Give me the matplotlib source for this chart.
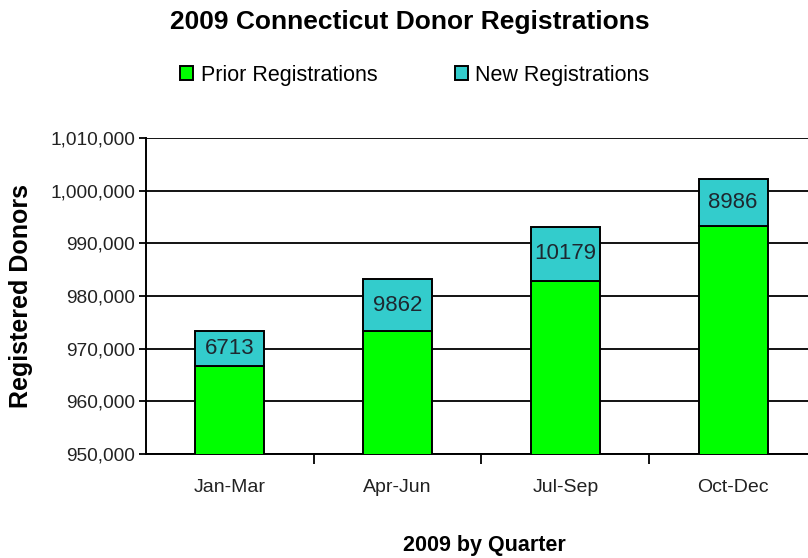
import matplotlib
matplotlib.use("Agg")
import matplotlib.pyplot as plt
from matplotlib.ticker import FuncFormatter, FixedLocator
import numpy as np

plt.rcParams['font.family'] = ['Liberation Sans', 'DejaVu Sans']

quarters = ["Jan-Mar", "Apr-Jun", "Jul-Sep", "Oct-Dec"]
prior = [966640, 973350, 982900, 993200]
new = [6713, 9862, 10179, 8986]
yticks = [950000, 960000, 970000, 980000, 990000, 1000000, 1010000]

fig = plt.figure(figsize=(8.08, 5.58), dpi=100)
ax = fig.add_axes([146/808, 1-454/558, (817-146)/808, (454-138)/558])

x = np.arange(len(quarters))
w = 0.41
b1 = ax.bar(x, prior, width=w, color='#00FF00', edgecolor='black', linewidth=1.4,
            label='Prior Registrations', zorder=3)
b2 = ax.bar(x, new, width=w, bottom=prior, color='#33CCCC', edgecolor='black',
            linewidth=1.4, label='New Registrations', zorder=3)

for xi, p, n in zip(x, prior, new):
    ax.text(xi, p + n * 0.5, f"{n}", ha='center', va='center', fontsize=16,
            color='#1e2830', zorder=4)

ax.set_ylim(950000, 1010000)
ax.set_xlim(-0.5, len(quarters) - 0.5)
ax.set_yticks(yticks)
ax.yaxis.set_major_formatter(FuncFormatter(lambda v, _: f"{int(v):,}"))
ax.grid(axis='y', color='black', linewidth=1.3, zorder=0)
ax.set_axisbelow(True)

ax.set_xticks(x)
ax.set_xticklabels(quarters, fontsize=14, color='#222222')
ax.xaxis.set_minor_locator(FixedLocator([0.5, 1.5, 2.5]))
ax.tick_params(axis='x', which='major', length=0, pad=18)
ax.tick_params(axis='x', which='minor', length=7, width=1.3, color='black', direction='out')
ax.tick_params(axis='y', length=5, width=1.3, labelsize=13.8, pad=3, labelcolor='#222222')

for s in ['top', 'right']:
    ax.spines[s].set_visible(False)
for s in ['left', 'bottom']:
    ax.spines[s].set_linewidth(1.4)
    ax.spines[s].set_color('black')

fig.text(410/808, 1-22/558, "2009 Connecticut Donor Registrations", ha='center', va='center',
         fontsize=19, fontweight='bold')
fig.text(484/808, 1-545/558, "2009 by Quarter", ha='center', va='center',
         fontsize=15.5, fontweight='bold')
fig.text(21/808, 1-296/558, "Registered Donors", ha='center', va='center',
         rotation=90, fontsize=18, fontweight='bold')

leg = fig.legend(handles=[b1, b2], loc='center', bbox_to_anchor=(415/808, 1-75/558),
                 ncol=2, frameon=False, fontsize=15.5, handlelength=0.6, handleheight=0.6,
                 handletextpad=0.35, columnspacing=3.6, borderaxespad=0)

fig.savefig("out.png", dpi=100)
